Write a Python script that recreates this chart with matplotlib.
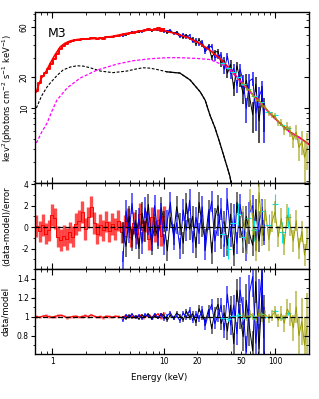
import matplotlib.pyplot as plt
import numpy as np
from matplotlib.ticker import FixedLocator, LogLocator, MultipleLocator, FuncFormatter, NullFormatter

plt.rcParams['axes.unicode_minus'] = False

# model curves, E^2 F in keV^2 (photons cm^-2 s^-1 keV^-1)
model_E = [0.72, 0.76, 0.80, 0.84, 0.90, 0.96, 1.05, 1.18, 1.3, 1.45, 1.6, 1.78, 2.0, 2.3, 2.7, 3.1, 3.5,
           4.1, 4.7, 5.5, 6.5, 7.5, 8.5, 10, 12, 14, 17, 21, 26, 32, 39, 48, 60, 73, 90, 110, 136, 168, 200]
model_tot = [14.3, 17, 19.5, 20.7, 23.5, 27, 32, 38.8, 42, 44.2, 45.3, 46, 46.3, 46.5, 46.8, 48, 49,
             50.8, 52.3, 54, 55.5, 56.5, 56.8, 55.5, 53, 50.5, 47, 42, 36, 30, 24, 18.6, 14.3, 11.4, 8.9,
             7.2, 5.9, 5.15, 4.5]
c1_E = [0.72, 0.8, 0.9, 0.96, 1.1, 1.25, 1.45, 1.67, 1.9, 2.19, 2.7, 3.5, 4.7, 5.5, 6.5, 7.5, 8.7, 10.7,
        14, 17.3, 21.3, 23.6, 26, 29, 32, 35.6, 39.4, 41]
c1 = [10, 13, 16, 17.4, 20.5, 23.2, 24.8, 25.5, 25.3, 24.4, 22.7, 21.9, 22.7, 23.6, 24.4, 24.2, 23.5, 22.3,
      21.7, 18.6, 14.3, 11.9, 8.6, 6.4, 4.6, 3.16, 2.2, 1.7]
c2_E = [0.72, 0.8, 0.9, 1.0, 1.1, 1.36, 1.78, 2.53, 3.83, 5.3, 7.6, 10.7, 14, 20, 26, 34, 39, 48, 60, 73,
        90, 110, 136, 168, 200]
c2 = [4.6, 5.8, 7.2, 9.5, 11.9, 15.6, 19.4, 23.2, 26.5, 28.5, 29.8, 30.5, 30.5, 30, 29.3, 26, 23.5, 18.4,
      14.2, 11.3, 8.8, 7.1, 5.8, 5.1, 4.45]

# soft X-ray spectrum (red)
red_E = [0.72, 0.77, 0.82, 0.87, 0.93, 0.99, 1.05, 1.12, 1.19, 1.27, 1.35, 1.44, 1.53, 1.63, 1.74, 1.85,
         1.97, 2.10, 2.23, 2.38, 2.53, 2.70, 2.87, 3.06, 3.26, 3.47, 3.69, 3.93, 4.19, 4.46, 4.75, 5.06,
         5.39, 5.74, 6.11, 6.51, 6.93, 7.38, 7.86, 8.37, 8.91, 9.49, 10.0]
red_mod = [14.5, 17.5, 20.2, 21.5, 24, 26.5, 29.5, 33, 36.5, 39.5, 41.8, 43.5, 44.6, 45.3, 45.8, 46,
           46.2, 46.3, 46.4, 46.5, 46.6, 46.8, 47, 47.5, 48, 48.6, 49.2, 49.8, 50.6, 51.3, 52, 52.7,
           53.3, 54, 54.6, 55.2, 55.7, 56.2, 56.5, 56.7, 56.6, 56.2, 55.8]
red_res = [0.1, -0.4, 0.2, -0.6, -0.3, 1.1, 0.8, -0.9, -1.2, -0.8, -1.1, -0.5, -0.9, 0.3, 0.6, 1.4,
           -0.2, 0.9, 1.9, 0.4, -0.6, 0.2, -0.3, 0.5, -0.4, 0.3, -0.2, 0.6, -0.5, 0.1, 0.8, -0.9,
           0.4, -0.6, 1.2, -0.3, 0.5, -1.1, 0.9, -0.4, 0.7, -0.8, 1.0]
red_ratio = [1.00, 0.995, 1.005, 1.01, 1.0, 0.995, 1.0, 1.01, 1.015, 1.005, 0.99, 0.995, 1.0, 1.005,
             0.995, 1.0, 1.01, 1.0, 1.02, 1.005, 0.995, 1.0, 0.99, 1.005, 1.0, 0.995, 1.005, 1.0, 0.99,
             1.005, 1.0, 1.01, 0.995, 1.0, 1.015, 0.99, 1.005, 1.02, 0.99, 1.01, 1.03, 0.985, 1.04]
red_rerr = 0.012

# hard X-ray spectra, two modules on a common grid (blue, black)
nu_E = [4.3, 4.6, 4.9, 5.2, 5.6, 6.0, 6.4, 6.8, 7.3, 7.8, 8.3, 8.9, 9.5, 10.1, 10.8, 11.5, 12.3, 13.1,
        14.0, 15.0, 16.0, 17.1, 18.2, 19.5, 20.8, 22.2, 23.7, 25.3, 27.0, 28.8, 30.8, 32.8, 35.0, 37.4,
        39.9, 42.6, 45.5, 48.5, 51.8, 55.3, 59.0, 63.0, 67.2, 71.8, 76.6, 79.0]
nu_mod = [51, 51.5, 52, 53, 53.5, 54.5, 55, 55.5, 56, 56.5, 56.5, 56.5, 56, 55.5, 55, 54, 53, 52,
          50.5, 49.5, 48, 47, 45.5, 44, 42, 40.5, 38.5, 37, 35, 33, 31, 29, 27.5, 25.5, 23.5, 21.5,
          20, 18.6, 17.2, 15.8, 14.6, 13.5, 12.4, 11.4, 10.5, 10.1]
nu_rerr = [0.012, 0.012, 0.012, 0.012, 0.012, 0.012, 0.013, 0.013, 0.013, 0.014, 0.014, 0.015, 0.015,
           0.016, 0.017, 0.018, 0.019, 0.02, 0.022, 0.024, 0.026, 0.028, 0.03, 0.033, 0.036, 0.04,
           0.044, 0.048, 0.053, 0.058, 0.065, 0.072, 0.08, 0.09, 0.1, 0.11, 0.12, 0.135, 0.15, 0.17,
           0.19, 0.21, 0.23, 0.26, 0.29, 0.32]
blue_res = [-3.2, 1.5, -0.5, 2.2, -1.0, 0.8, -1.5, 1.8, 0.3, -1.2, 2.0, -0.8, 1.2, -1.6, 0.6, 2.3,
            -1.1, 0.4, -2.0, 1.6, -0.3, 2.5, -1.4, 0.9, -0.6, 1.9, -2.1, 0.7, 2.4, -1.3, 0.2, 1.7,
            -1.8, 2.6, -0.9, 1.1, -1.5, 2.1, 0.4, -2.2, 1.3, 2.0, -1.2, 0.5, 1.6, -0.7]
blue_ratio = [0.96, 1.018, 0.994, 1.026, 0.988, 1.01, 0.98, 1.023, 1.004, 0.983, 1.028, 0.988, 1.018,
              0.974, 1.01, 1.041, 0.979, 1.008, 0.956, 1.038, 0.992, 1.07, 0.958, 1.03, 0.978, 1.076,
              0.908, 1.034, 1.127, 0.925, 1.013, 1.122, 0.856, 1.234, 0.91, 1.121, 0.82, 1.28, 1.06,
              0.626, 1.25, 1.42, 0.72, 1.13, 1.46, 0.78]
black_res = [-0.5, -1.8, 1.0, -1.2, 0.6, -2.0, 1.3, -0.4, 2.1, -1.6, 0.2, -1.0, 1.8, 0.5, -2.2, 0.9,
             -0.7, 1.9, 0.3, -1.5, 2.2, -0.2, 1.0, -1.9, 2.3, 0.1, -1.2, 1.5, -2.4, 0.8, 2.0, -1.0,
             0.5, -1.7, 1.2, -2.6, 2.3, 0.0, -1.4, 1.0, -0.6, -1.7, 1.6, -1.3, 0.9, -0.3]
black_ratio = [0.994, 0.978, 1.012, 0.986, 1.007, 0.976, 1.017, 0.995, 1.027, 0.978, 1.003, 0.985,
               1.027, 1.008, 0.963, 1.016, 0.987, 1.038, 1.007, 0.964, 1.057, 0.994, 1.03, 0.937,
               1.083, 1.004, 0.947, 1.072, 0.873, 1.046, 1.13, 0.928, 1.04, 0.847, 1.12, 0.714,
               1.276, 1.0, 0.79, 1.17, 0.886, 0.64, 1.368, 0.66, 1.261, 0.904]

# sparse hard X-ray points (cyan)
cyan_E = [34, 38, 42, 47, 52, 58, 65, 75, 88, 100, 115, 130]
cyan_dE = [1.8, 2, 2.2, 2.5, 2.8, 3.2, 3.5, 5, 6, 6, 7, 8]
cyan_mod = [27.5, 25, 22, 19.3, 17.2, 15, 13, 11, 9.1, 8, 6.9, 6.2]
cyan_res = [-0.6, -2.0, 0.4, 1.2, -0.9, 0.8, -0.3, 1.5, 0.2, 2.1, -0.5, 0.9]
cyan_ratio = [0.99, 0.97, 1.01, 1.02, 0.985, 1.01, 0.995, 1.03, 1.0, 1.06, 0.99, 1.04]
cyan_rerr = 0.02

# highest energy spectrum (olive)
olive_E = [52, 56, 60, 64, 68, 72, 77, 82, 88, 94, 100, 107, 114, 121, 129, 137, 146, 155, 164, 174,
           184, 195]
olive_mod = [17.2, 15.5, 14.3, 13.2, 12.2, 11.5, 10.7, 10, 9.1, 8.5, 8, 7.5, 7, 6.6, 6.2, 5.9, 5.6,
             5.35, 5.2, 5, 4.8, 4.6]
olive_res = [1.0, -1.5, 2.5, 0.3, -2.2, 3.2, -0.8, 1.6, -1.2, 0.5, 1.4, -0.9, 0.8, -1.6, 1.1, 0.2,
             -1.3, 0.6, -2.0, -0.4, -2.6, -1.1]
olive_ratio = [1.01, 0.98, 1.03, 1.0, 0.97, 1.04, 0.99, 1.02, 0.98, 1.01, 1.05, 0.96, 1.03, 0.93,
               1.08, 1.02, 0.88, 1.1, 0.8, 0.95, 0.7, 0.9]
olive_rerr = [0.03, 0.03, 0.035, 0.035, 0.04, 0.04, 0.045, 0.05, 0.05, 0.06, 0.06, 0.07, 0.08, 0.09,
              0.1, 0.12, 0.14, 0.17, 0.2, 0.25, 0.3, 0.35]

RED, BLUE, CYAN, OLIVE, MAG = '#ff0000', '#0000ff', '#00e8f0', '#9a9a00', '#ff00ff'


def draw(ax, E, y, err, color, lw=0.7, elw=1.2, alpha=0.5, step=False):
    ax.errorbar(E, y, yerr=err, fmt='none', ecolor=color, elinewidth=elw, alpha=alpha)
    if step:
        ax.step(E, y, where='mid', color=color, lw=lw)
    else:
        ax.plot(E, y, color=color, lw=lw)


fig = plt.figure(figsize=(3.19, 3.99), dpi=100)
ax1 = fig.add_axes([0.1097, 0.5414, 0.859, 0.4286])
ax2 = fig.add_axes([0.1097, 0.3258, 0.859, 0.2156], sharex=ax1)
ax3 = fig.add_axes([0.1097, 0.1128, 0.859, 0.2130], sharex=ax1)

# spectra and model
for res_ratio, col in [(black_ratio, 'k'), (blue_ratio, BLUE)]:
    flux = np.array(nu_mod) * np.array(res_ratio)
    draw(ax1, nu_E, flux, np.array(nu_mod) * np.array(nu_rerr), col, lw=0.7, elw=1.3, alpha=0.75)
draw(ax1, red_E, np.array(red_mod) * np.array(red_ratio), np.array(red_mod) * red_rerr, RED,
     lw=1.4, elw=1.6, alpha=0.8, step=True)
ax1.plot(model_E, model_tot, color=RED, lw=1.2)
ax1.plot(c1_E, c1, color='k', lw=0.8, ls=(0, (2.5, 1.5)))
c1_hi = np.array(c1_E) >= 10.7
ax1.plot(np.array(c1_E)[c1_hi], np.array(c1)[c1_hi], color='k', lw=0.9)
ax1.plot(c2_E, c2, color=MAG, lw=0.9, ls=(0, (2.5, 1.5)))
ax1.errorbar(cyan_E, np.array(cyan_mod) * np.array(cyan_ratio), yerr=np.array(cyan_mod) * cyan_rerr,
             xerr=cyan_dE, fmt='none', ecolor=CYAN, elinewidth=0.8)
draw(ax1, olive_E, np.array(olive_mod) * np.array(olive_ratio), np.array(olive_mod) * np.array(olive_rerr),
     OLIVE, lw=0.7, elw=1.3, alpha=0.6)

# residuals
draw(ax2, red_E, red_res, 1, RED, lw=0.7, elw=2.4, alpha=0.7, step=True)
draw(ax2, nu_E, black_res, 1, 'k', elw=1.3, alpha=0.6)
draw(ax2, nu_E, blue_res, 1, BLUE, elw=1.3, alpha=0.65)
ax2.errorbar(cyan_E, cyan_res, yerr=1, xerr=cyan_dE, fmt='none', ecolor=CYAN, elinewidth=0.8)
draw(ax2, olive_E, olive_res, 1, OLIVE, elw=1.3, alpha=0.6)
ax2.axhline(0, color='k', lw=0.9, ls=(0, (4, 2)))

# ratios
draw(ax3, red_E, red_ratio, red_rerr, RED, lw=0.8, elw=1.8, alpha=0.6)
draw(ax3, nu_E, black_ratio, nu_rerr, 'k', elw=1.3, alpha=0.6)
draw(ax3, nu_E, blue_ratio, nu_rerr, BLUE, elw=1.3, alpha=0.65)
ax3.errorbar(cyan_E, cyan_ratio, yerr=cyan_rerr, xerr=cyan_dE, fmt='none', ecolor=CYAN, elinewidth=0.8)
draw(ax3, olive_E, olive_ratio, olive_rerr, OLIVE, elw=1.3, alpha=0.6)
ax3.axhline(1, color='k', lw=0.9, ls=(0, (4, 2)))

ax1.set_xscale('log')
ax1.set_xlim(0.70, 202)
ax1.set_yscale('log')
ax1.set_ylim(1.9, 84)
ax2.set_ylim(-3.9, 4.1)
ax3.set_ylim(0.607, 1.50)

ax1.yaxis.set_major_locator(FixedLocator([10, 20, 60]))
ax1.yaxis.set_major_formatter(FuncFormatter(lambda v, p: '%g' % v))
ax1.yaxis.set_minor_locator(LogLocator(subs=np.arange(2, 10)))
ax1.yaxis.set_minor_formatter(NullFormatter())
for lab in ax1.get_yticklabels():
    lab.set_rotation(90)
    lab.set_va('center')
ax2.yaxis.set_major_locator(MultipleLocator(2))
ax2.yaxis.set_minor_locator(MultipleLocator(1))
ax3.yaxis.set_major_locator(FixedLocator([0.8, 1.0, 1.2, 1.4]))
ax3.yaxis.set_major_formatter(FuncFormatter(lambda v, p: '%g' % v))
ax3.yaxis.set_minor_locator(MultipleLocator(0.1))

ax3.xaxis.set_major_locator(FixedLocator([1, 10, 100]))
ax3.xaxis.set_major_formatter(FuncFormatter(lambda v, p: '%g' % v))
ax3.xaxis.set_minor_locator(LogLocator(subs=np.arange(2, 10)))
ax3.xaxis.set_minor_formatter(FuncFormatter(lambda v, p: str(int(round(v))) if int(round(v)) in (20, 50) else ''))

for ax in (ax1, ax2, ax3):
    ax.tick_params(axis='x', which='both', direction='in', top=True, labelsize=5.5, pad=2)
    ax.tick_params(axis='x', which='major', length=4, width=0.8)
    ax.tick_params(axis='x', which='minor', length=2.2, width=0.6)
    ax.tick_params(axis='y', which='both', direction='out', labelsize=5.5, pad=1.5)
    ax.tick_params(axis='y', which='major', length=3, width=0.8)
    ax.tick_params(axis='y', which='minor', length=1.5, width=0.6)
    for s in ax.spines.values():
        s.set_linewidth(0.9)
    # right-hand ticks point inwards
    tw = ax.twinx()
    tw.set_yscale(ax.get_yscale())
    tw.set_ylim(ax.get_ylim())
    tw.yaxis.set_major_locator(ax.yaxis.get_major_locator())
    tw.yaxis.set_minor_locator(ax.yaxis.get_minor_locator())
    tw.tick_params(axis='y', which='both', direction='in', labelright=False)
    tw.tick_params(axis='y', which='major', length=3.5, width=0.8)
    tw.tick_params(axis='y', which='minor', length=2, width=0.6)
ax1.tick_params(axis='x', labelbottom=False)
ax2.tick_params(axis='x', labelbottom=False)

ax1.set_ylabel(r'kev$^2$(photons cm$^{-2}$ s$^{-1}$ keV$^{-1}$)', fontsize=6)
ax2.set_ylabel('(data-model)/error', fontsize=6.2)
ax3.set_ylabel('data/model', fontsize=6.2)
ax1.yaxis.set_label_coords(-0.074, 0.5)
ax2.yaxis.set_label_coords(-0.086, 0.5)
ax3.yaxis.set_label_coords(-0.09, 0.5)
fig.text(0.5, 0.053, 'Energy (keV)', ha='center', va='center', fontsize=6.3)
ax1.text(0.046, 0.915, 'M3', transform=ax1.transAxes, fontsize=9, va='top', ha='left')

fig.savefig('out.png', dpi=100)
